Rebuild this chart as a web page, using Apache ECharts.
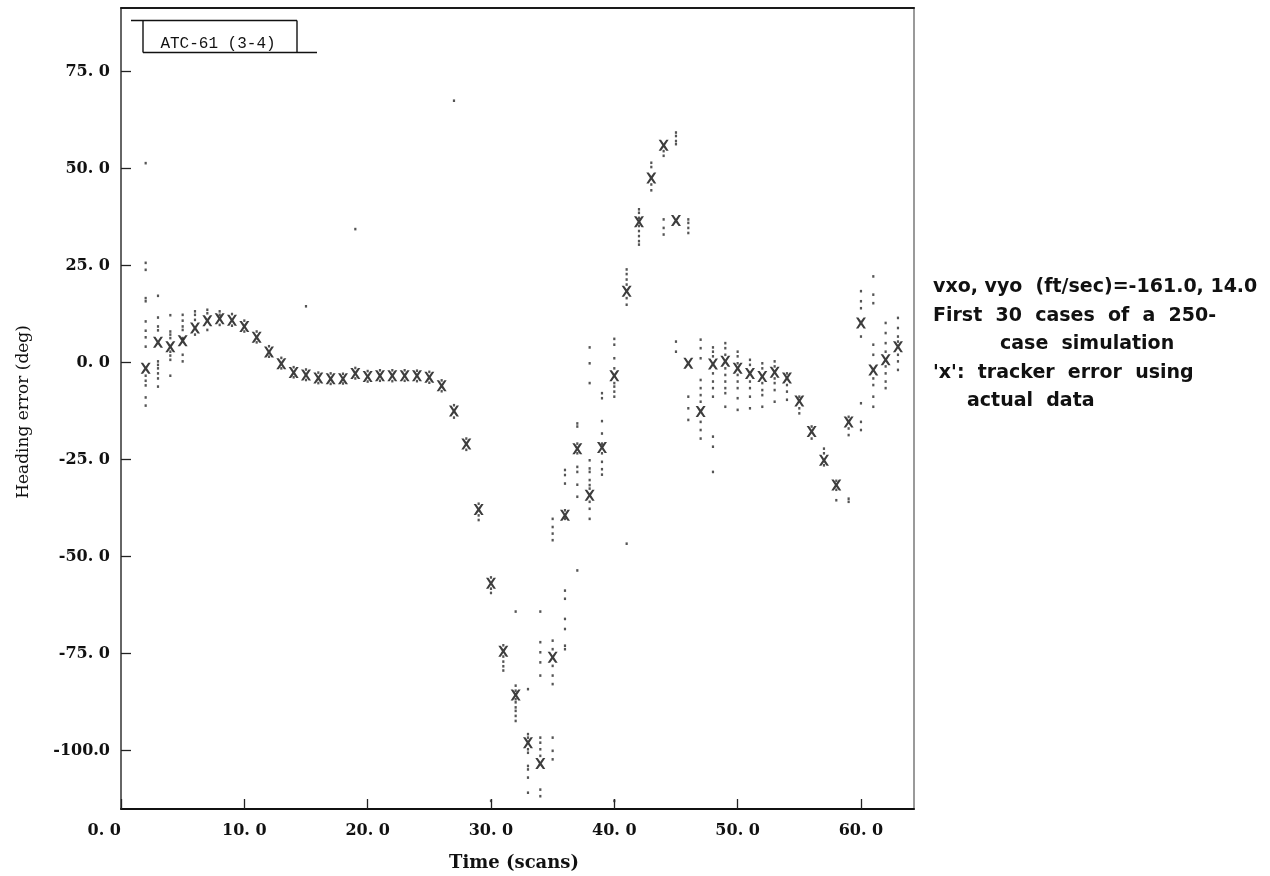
<!DOCTYPE html>
<html>
<head>
<meta charset="utf-8">
<title>Heading error vs time</title>
<script src="https://cdn.jsdelivr.net/npm/echarts@6/dist/echarts.min.js"></script>
<style>
  html, body { margin: 0; padding: 0; background: #ffffff; }
  #chart { width: 1270px; height: 876px; }
</style>
</head>
<body>
<div id="chart"></div>
<script>
// Scan index of each plotted column
const scans = [
  2, 3, 4, 5, 6, 7, 8, 9, 10, 11, 12, 13, 14, 15, 16, 17, 18, 19, 20, 21,
  22, 23, 24, 25, 26, 27, 28, 29, 30, 31, 32, 33, 34, 35, 36, 37, 38, 39, 40, 41,
  42, 43, 44, 45, 46, 47, 48, 49, 50, 51, 52, 53, 54, 55, 56, 57, 58, 59, 60, 61,
  62, 63
];

// 'x' : tracker heading error using the actual data (deg)
const trackerError = [
  -1.5, 5.2, 4.1, 5.6, 8.9, 10.8, 11.3, 10.9, 9.3, 6.5, 2.7, -0.3, -2.6, -3.2, -4.0, -4.2, -4.2, -2.8, -3.6, -3.4,
  -3.4, -3.4, -3.4, -3.8, -6.0, -12.5, -21.0, -37.9, -56.9, -74.4, -85.7, -98.0, -103.4, -76.0, -39.4, -22.2, -34.2, -21.9, -3.4, 18.4,
  36.3, 47.6, 56.0, 36.6, -0.2, -12.6, -0.4, 0.3, -1.5, -2.8, -3.6, -2.5, -4.0, -9.9, -17.8, -25.2, -31.6, -15.3, 10.2, -1.9,
  0.7, 4.1
];

// Simulated cases (first 30 of 250) visible around each scan, one list per scan
const caseSpread = [
  [51.4, 25.7, 23.9, 16.6, 15.8, 10.6, 8.2, 6.5, 4.1, -3.4, -4.7, -5.9, -9.0, -11.1],
  [17.2, 11.6, 9.3, 8.3, 0.3, -0.6, -1.5, -2.8, -4.1, -6.2],
  [12.2, 8.0, 7.2, 6.3, 2.8, 1.8, 0.7, -3.4],
  [12.3, 10.8, 9.3, 8.4, 6.3, 2.0, 0.3],
  [13.2, 12.3, 11.0, 7.2],
  [13.6, 12.7, 8.4],
  [13.2, 12.3, 9.7],
  [12.5, 9.5],
  [10.8, 8.0],
  [8.0, 5.2],
  [4.2, 1.5],
  [1.2, -1.5],
  [-1.2, -3.8],
  [14.5, -1.8, -4.5],
  [-2.6, -5.3],
  [-2.8, -5.5],
  [-2.9, -5.4],
  [34.4, -1.4, -4.1],
  [-2.2, -4.9],
  [-2.0, -4.7],
  [-2.0, -4.8],
  [-2.0, -4.7],
  [-2.1, -4.8],
  [-2.4, -5.2],
  [-4.6, -7.4],
  [67.5, -11.0, -14.2],
  [-19.6, -22.5],
  [-36.4, -39.4, -40.6],
  [-55.4, -58.3, -59.4, -113.0],
  [-72.9, -75.8, -77.1, -78.3, -79.4],
  [-64.2, -83.3, -84.6, -86.8, -87.6, -88.9, -89.8, -91.1, -92.4],
  [-84.2, -95.8, -96.7, -99.7, -100.6, -104.0, -104.9, -107.0, -110.9],
  [-64.2, -72.1, -74.7, -77.3, -80.7, -96.7, -98.0, -99.7, -101.4, -110.1, -111.8],
  [-40.3, -42.4, -44.1, -45.8, -71.7, -73.9, -78.2, -80.7, -82.9, -96.7, -100.1, -102.3],
  [-27.7, -29.0, -31.2, -38.1, -40.3, -58.8, -60.9, -66.1, -68.7, -73.0, -73.9],
  [-15.7, -16.5, -20.9, -23.4, -26.9, -28.2, -31.5, -34.6, -53.6],
  [3.9, -0.2, -5.3, -25.2, -27.3, -28.2, -30.3, -31.6, -32.5, -35.9, -37.7, -40.3],
  [-7.9, -9.2, -15.1, -18.3, -20.9, -23.4, -25.6, -27.5, -28.9],
  [6.1, 4.6, 1.1, -1.5, -5.3, -6.2, -7.5, -8.8, -113.0],
  [24.0, 22.8, 21.4, 20.1, 16.6, 14.9, -46.7],
  [39.5, 38.6, 37.3, 35.2, 33.9, 32.6, 31.3, 30.4],
  [51.5, 50.4, 45.9, 44.4],
  [54.5, 53.3, 36.9, 34.7, 33.0],
  [59.3, 58.4, 57.1, 56.3, 5.4, 2.8],
  [36.9, 36.0, 34.7, 33.4, -8.8, -11.8, -14.8],
  [5.9, 3.7, 1.1, -4.5, -6.6, -8.4, -10.1, -15.3, -17.4, -19.6],
  [3.9, 2.8, 1.6, -2.8, -4.9, -6.6, -8.8, -19.1, -21.7, -28.2],
  [5.0, 3.7, 2.0, -1.5, -3.2, -4.9, -6.6, -7.9, -11.4],
  [2.8, 1.6, -0.2, -3.2, -4.9, -6.6, -9.2, -12.2],
  [0.7, -0.6, -4.9, -6.6, -8.8, -11.8],
  [-0.2, -1.5, -5.3, -7.1, -8.4, -11.4],
  [0.3, -1.0, -4.1, -5.3, -7.1, -10.1],
  [-2.8, -5.8, -7.5, -9.6],
  [-8.8, -11.8, -13.1],
  [-16.5, -19.6],
  [-22.2, -23.4, -26.5],
  [-30.5, -32.8, -35.5],
  [-14.0, -17.0, -18.7, -35.1, -35.9],
  [18.4, 15.8, 14.0, 6.7, -10.5, -15.3, -17.4],
  [22.2, 17.5, 15.3, 4.6, 2.0, -4.1, -5.8, -8.8, -11.4],
  [10.2, 7.6, 5.0, 2.8, -1.0, -2.8, -4.9, -6.6],
  [11.5, 8.9, 6.7, 5.4, 2.0, 0.3, -1.9]
];

// Axis ticks and their printed labels
const xTicks = [0, 10, 20, 30, 40, 50, 60];
const xTickLabels = ['0. 0', '10. 0', '20. 0', '30. 0', '40. 0', '50. 0', '60. 0'];
const yTicks = [-100, -75, -50, -25, 0, 25, 50, 75];
const yTickLabels = ['-100.0', '-75. 0', '-50. 0', '-25. 0', '0. 0', '25. 0', '50. 0', '75. 0'];

const xTitle = 'Time (scans)';
const yTitle = 'Heading error (deg)';
const runTag = 'ATC-61 (3-4)';
const noteLines = [
  'vxo, vyo  (ft/sec)=-161.0, 14.0',
  'First  30  cases  of  a  250-',
  'case  simulation',
  "'x':  tracker  error  using",
  'actual  data'
];

// Build series data from the arrays above
const trackerPoints = scans.map((s, i) => [s, trackerError[i]]);
const casePoints = [];
scans.forEach((s, i) => {
  caseSpread[i].forEach(v => casePoints.push([s, v]));
});

const tickFont = { fontFamily: 'DejaVu Serif', fontWeight: 'bold', fontSize: 16, color: '#111' };
// typewriter-style 'x' glyph used as the tracker marker
const xMarkPath = 'path://M0,0H2.4L5,3.3L7.6,0H10L6.4,5L10,10H7.6L5,6.7L2.4,10H0L3.6,5Z';

const noteX = [933, 933, 1000, 933, 967];
const noteY = [287, 316, 344, 373, 401];

const chart = echarts.init(document.getElementById('chart'), null, { renderer: 'canvas' });

const option = {
  backgroundColor: '#ffffff',
  animation: false,
  grid: { left: 121, right: 356, top: 8, bottom: 67, containLabel: false, outerBoundsMode: 'none' },
  xAxis: [
    {
      type: 'value', min: 0, max: 64.3, position: 'bottom',
      axisLine: { show: true, onZero: false, lineStyle: { color: '#111', width: 2 } },
      axisTick: { show: true, inside: true, length: 10, customValues: xTicks, lineStyle: { color: '#222', width: 1.3 } },
      axisLabel: Object.assign({
        customValues: xTicks, margin: 14, alignMinLabel: 'right',
        formatter: v => xTickLabels[xTicks.indexOf(v)]
      }, tickFont),
      splitLine: { show: false }
    },
    {
      type: 'value', min: 0, max: 64.3, position: 'top',
      axisLine: { show: true, onZero: false, lineStyle: { color: '#1a1a1a', width: 2 } },
      axisTick: { show: false }, axisLabel: { show: false }, splitLine: { show: false }
    }
  ],
  yAxis: [
    {
      type: 'value', min: -115.1, max: 91.4, position: 'left',
      axisLine: { show: true, onZero: false, lineStyle: { color: '#333', width: 1.5 } },
      axisTick: { show: true, inside: true, length: 10, customValues: yTicks, lineStyle: { color: '#222', width: 1.3 } },
      axisLabel: Object.assign({
        customValues: yTicks, margin: 11,
        formatter: v => yTickLabels[yTicks.indexOf(v)]
      }, tickFont),
      splitLine: { show: false }
    },
    {
      type: 'value', min: -115.1, max: 91.4, position: 'right',
      axisLine: { show: true, onZero: false, lineStyle: { color: '#9a9a9a', width: 2 } },
      axisTick: { show: false }, axisLabel: { show: false }, splitLine: { show: false }
    }
  ],
  series: [
    {
      name: 'cases', type: 'scatter', data: casePoints,
      symbol: 'rect', symbolSize: [2.2, 2.6],
      itemStyle: { color: '#2a2a2a' }, silent: true, z: 2
    },
    {
      name: 'tracker', type: 'scatter', data: trackerPoints,
      symbol: xMarkPath, symbolSize: [10, 11],
      itemStyle: { color: '#0d0d0d' }, silent: true, z: 3
    }
  ],
  graphic: [
    // run tag box in the upper-left corner of the plot
    { type: 'line', shape: { x1: 131, y1: 20.5, x2: 297, y2: 20.5 }, style: { stroke: '#111', lineWidth: 1.6 } },
    { type: 'line', shape: { x1: 143, y1: 20.5, x2: 143, y2: 52.5 }, style: { stroke: '#111', lineWidth: 1.4 } },
    { type: 'line', shape: { x1: 297, y1: 20.5, x2: 297, y2: 52.5 }, style: { stroke: '#111', lineWidth: 1.4 } },
    { type: 'line', shape: { x1: 143, y1: 52.5, x2: 317, y2: 52.5 }, style: { stroke: '#111', lineWidth: 1.6 } },
    {
      type: 'text', x: 218, y: 43.5,
      style: { text: runTag, fill: '#111', font: '16px "Liberation Mono"', textAlign: 'center', textVerticalAlign: 'middle' }
    },
    // axis titles
    {
      type: 'text', x: 514, y: 863,
      style: { text: xTitle, fill: '#111', font: 'bold 18px "DejaVu Serif"', textAlign: 'center', textVerticalAlign: 'middle' }
    },
    {
      type: 'text', x: 24, y: 412, rotation: Math.PI / 2,
      style: { text: yTitle, fill: '#111', font: '17px "DejaVu Serif"', textAlign: 'center', textVerticalAlign: 'middle' }
    }
  ].concat(noteLines.map((t, i) => ({
    type: 'text', x: noteX[i], y: noteY[i],
    style: { text: t, fill: '#111', font: 'bold 19px "DejaVu Sans"', textAlign: 'left', textVerticalAlign: 'middle' }
  })))
};

chart.setOption(option);
</script>
</body>
</html>
